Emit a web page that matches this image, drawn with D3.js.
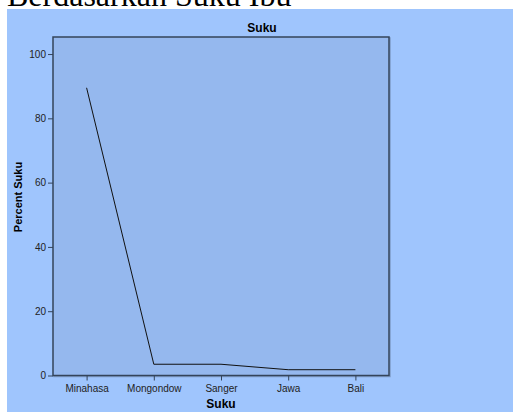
<!DOCTYPE html>
<html><head><meta charset="utf-8">
<script src="https://cdn.jsdelivr.net/npm/d3@7"></script>
<style>body{margin:0;background:#fff;}svg{display:block;}</style>
</head><body>
<script>
const categories = ["Minahasa","Mongondow","Sanger","Jawa","Bali"];
const percents = [89.5, 3.5, 3.5, 1.8, 1.8];
const yTicks = [0,20,40,60,80,100];

const W=513,H=412;
const svg=d3.select("body").append("svg").attr("width",W).attr("height",H);
svg.append("text").attr("x",7).attr("y",6).attr("font-family","Liberation Serif, Times New Roman, serif")
  .attr("font-size",32).attr("fill","#000").text("Berdasarkan Suku Ibu");
svg.append("rect").attr("x",7).attr("y",9).attr("width",W-7).attr("height",H-9).attr("fill","#9fc5fd");

const L=53,R=389,T=37,B=375.5;
const x=d3.scalePoint().domain(categories).range([L,R]).padding(0.5);
const y=d3.scaleLinear().domain([0,105.3]).range([B,T]);

svg.append("rect").attr("x",L+1).attr("y",T+1).attr("width",R-L).attr("height",B-T)
  .attr("fill","none").attr("stroke","#7f9cc8").attr("stroke-width",1.5);
svg.append("rect").attr("x",L).attr("y",T).attr("width",R-L).attr("height",B-T)
  .attr("fill","#95b8ee").attr("stroke","#34445a").attr("stroke-width",1.5);

const font="Liberation Sans, Arial, sans-serif";
const ya=svg.append("g").attr("transform",`translate(${L},0)`)
  .call(d3.axisLeft(y).tickValues(yTicks).tickSize(5).tickPadding(2).tickFormat(d3.format("d")));
const xa=svg.append("g").attr("transform",`translate(0,${B})`)
  .call(d3.axisBottom(x).tickSize(5).tickPadding(4));
[ya,xa].forEach(a=>{a.select(".domain").remove();
  a.selectAll("line").attr("stroke","#34445a").attr("stroke-width",1);
  a.selectAll("text").attr("font-family",font).attr("font-size",10).attr("fill","#222");});

svg.append("path").datum(percents)
  .attr("d",d3.line().x((d,i)=>x(categories[i])).y(d=>y(d)))
  .attr("fill","none").attr("stroke","#111").attr("stroke-width",1);

svg.append("text").attr("x",262).attr("y",32).attr("text-anchor","middle")
  .attr("font-family",font).attr("font-weight","bold").attr("font-size",12).attr("fill","#000").text("Suku");
svg.append("text").attr("x",221).attr("y",408).attr("text-anchor","middle")
  .attr("font-family",font).attr("font-weight","bold").attr("font-size",12).attr("fill","#000").text("Suku");
svg.append("text").attr("transform","translate(22,197) rotate(-90)").attr("text-anchor","middle")
  .attr("font-family",font).attr("font-weight","bold").attr("font-size",11).attr("fill","#000").text("Percent Suku");
</script>
</body></html>
